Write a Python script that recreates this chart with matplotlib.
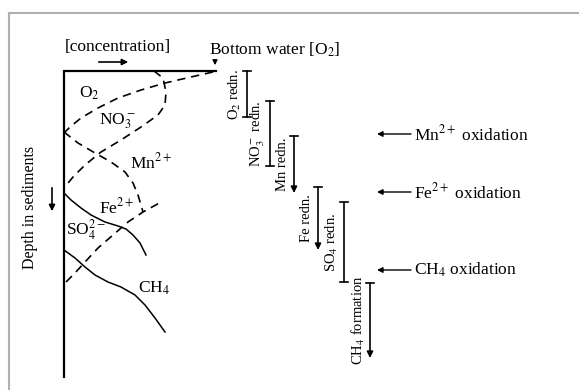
import matplotlib.pyplot as plt

plt.rcParams['font.family'] = ['Liberation Serif', 'DejaVu Serif']
plt.rcParams['mathtext.fontset'] = 'stix'

# pore-water profiles (x = concentration, y = depth), sketched shapes
o2_x = [213, 191, 165, 141, 118, 98, 81, 70, 64]
o2_y = [72, 77, 83, 90, 98, 108, 118, 127, 133]
no3_x = [154, 163, 166, 165, 158, 141, 121, 101, 85, 73, 64]
no3_y = [71, 78, 92, 105, 115, 127, 140, 152, 165, 177, 188]
mn_x = [64, 78, 95, 111, 125, 133, 138, 141, 143]
mn_y = [132, 143, 153, 162, 172, 183, 195, 205, 212]
fe_x = [66, 75, 85, 98, 113, 128, 143, 163]
fe_y = [282, 273, 262, 248, 235, 222, 212, 201]
so4_x = [64, 71, 81, 91, 105, 118, 126, 133, 140, 146]
so4_y = [193, 200, 208, 215, 222, 226, 229, 235, 243, 255]
ch4_x = [64, 75, 85, 95, 108, 121, 135, 145, 155, 165]
ch4_y = [250, 258, 267, 275, 282, 287, 295, 305, 318, 332]

# redox zones on the right
zone_labels = ['O$_2$ redn.', 'NO$_3^-$ redn.', 'Mn redn.', 'Fe redn.',
               'SO$_4$ redn.', 'CH$_4$ formation']
zone_x = [247, 270, 294, 318, 344, 370]
zone_top = [71, 101, 136, 187, 202, 283]
zone_bottom = [117, 166, 193, 250, 282, 358]
zone_arrow = [False, False, True, True, False, True]

ox_labels = ['Mn$^{2+}$ oxidation', 'Fe$^{2+}$ oxidation', 'CH$_4$ oxidation']
ox_depth = [134, 192, 270]

fig = plt.figure(figsize=(5.79, 3.90), dpi=100)
ax = fig.add_axes([0, 0, 1, 1])
ax.set_xlim(0, 579)
ax.set_ylim(390, 0)
ax.axis('off')

# frame lines
ax.plot([9, 579], [13, 13], color='#b0b0b0', lw=1.5)
ax.plot([9, 9], [13, 390], color='#b0b0b0', lw=1.5)

# axes of the sketch
ax.plot([64, 64, 216], [377, 71, 71], color='black', lw=1.6, solid_joinstyle='miter')

dash = dict(color='black', lw=1.2, ls=(0, (5, 3.5)))
ax.plot(o2_x, o2_y, **dash)
ax.plot(no3_x, no3_y, **dash)
ax.plot(mn_x, mn_y, **dash)
ax.plot(fe_x, fe_y, **dash)
ax.plot(so4_x, so4_y, color='black', lw=1.1)
ax.plot(ch4_x, ch4_y, color='black', lw=1.1)

fs = 12.5
ax.text(89, 93, 'O$_2$', fontsize=fs, ha='center', va='center')
ax.text(117, 121, 'NO$_3^-$', fontsize=fs, ha='center', va='center')
ax.text(151, 162, 'Mn$^{2+}$', fontsize=fs, ha='center', va='center')
ax.text(117, 207, 'Fe$^{2+}$', fontsize=fs, ha='center', va='center')
ax.text(86, 230, 'SO$_4^{2-}$', fontsize=fs, ha='center', va='center')
ax.text(154, 288, 'CH$_4$', fontsize=fs, ha='center', va='center')

ax.text(118, 47, '[concentration]', fontsize=fs, ha='center', va='center')
ax.annotate('', xy=(131, 62), xytext=(96, 62),
            arrowprops=dict(arrowstyle='-|>', color='black', lw=1.2, mutation_scale=9))
ax.text(209, 50, 'Bottom water [O$_2$]', fontsize=fs, ha='left', va='center')
ax.annotate('', xy=(215, 68), xytext=(215, 57),
            arrowprops=dict(arrowstyle='-|>', color='black', lw=1.0, mutation_scale=7))

ax.text(30, 207, 'Depth in sediments', fontsize=11.5, rotation=90,
        ha='center', va='center')
ax.annotate('', xy=(52, 214), xytext=(52, 185),
            arrowprops=dict(arrowstyle='-|>', color='black', lw=1.2, mutation_scale=9))

# zone bars
for lab, x, t, b, arr in zip(zone_labels, zone_x, zone_top, zone_bottom, zone_arrow):
    ax.plot([x - 4, x + 4], [t, t], color='black', lw=1.2)
    if arr:
        ax.annotate('', xy=(x, b), xytext=(x, t),
                    arrowprops=dict(arrowstyle='-|>', color='black', lw=1.2,
                                    mutation_scale=9, shrinkA=0, shrinkB=0))
    else:
        ax.plot([x, x], [t, b], color='black', lw=1.2)
        ax.plot([x - 4, x + 4], [b, b], color='black', lw=1.2)
    ax.text(x - 12, (t + b) / 2, lab, fontsize=10.5, rotation=90,
            ha='center', va='center')

for lab, y in zip(ox_labels, ox_depth):
    ax.annotate('', xy=(377, y), xytext=(411, y),
                arrowprops=dict(arrowstyle='-|>', color='black', lw=1.0,
                                mutation_scale=8, shrinkA=0, shrinkB=0))
    ax.text(414, y, lab, fontsize=fs, ha='left', va='center')

fig.savefig('out.png', dpi=100)
